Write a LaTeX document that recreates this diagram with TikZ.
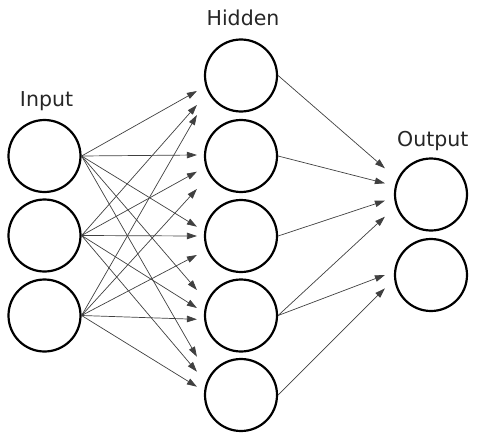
\documentclass[tikz,border=0pt]{standalone}
\usepackage{fontspec}
\setmainfont{DejaVu Sans}
\usetikzlibrary{arrows.meta,calc}
\begin{document}
\begin{tikzpicture}[x=1pt,y=-1pt,
  neuron/.style={circle,draw=black,line width=2.2pt,minimum size=72pt,inner sep=0pt},
  conn/.style={draw=black!75,line width=0.7pt,-{Triangle[length=10pt,width=6.5pt]}},
  lbl/.style={anchor=base,font=\fontsize{20.5}{24}\selectfont,text=black!85}]
\useasboundingbox (0,0) rectangle (486,441);
% nodes
\node[neuron] (i1) at (44.5,156) {};
\node[neuron] (i2) at (44.5,235.5) {};
\node[neuron] (i3) at (44.5,315.5) {};
\node[neuron] (h1) at (241,75.5) {};
\node[neuron] (h2) at (241,156) {};
\node[neuron] (h3) at (241,236) {};
\node[neuron] (h4) at (241,315.5) {};
\node[neuron] (h5) at (241,395) {};
\node[neuron] (o1) at (431,194.5) {};
\node[neuron] (o2) at (431,275) {};
% labels
\node[lbl] (tin) at (46.5,106.7) {Input};
\node[lbl] (thid) at (243,26) {Hidden};
\node[lbl] (tout) at (432.8,146.7) {Output};
% input -> hidden
\draw[conn] (i1.east) -- ($(h1.west)+(-7,15.5)$);
\draw[conn] (i2.east) -- ($(h1.west)+(-7,29.5)$);
\draw[conn] (i3.east) -- ($(h1.west)+(-7,39.5)$);
\draw[conn] (i1.east) -- ($(h2.west)+(-7,-1)$);
\draw[conn] (i2.east) -- ($(h2.west)+(-7,15.7)$);
\draw[conn] (i3.east) -- ($(h2.west)+(-7,33)$);
\draw[conn] (i1.east) -- ($(h3.west)+(-7,-9.3)$);
\draw[conn] (i2.east) -- ($(h3.west)+(-7,0)$);
\draw[conn] (i3.east) -- ($(h3.west)+(-7,19)$);
\draw[conn] (i1.east) -- ($(h4.west)+(-7,-25.5)$);
\draw[conn] (i2.east) -- ($(h4.west)+(-7,-7.5)$);
\draw[conn] (i3.east) -- ($(h4.west)+(-7,3.8)$);
\draw[conn] (i1.east) -- ($(h5.west)+(-7,-38.3)$);
\draw[conn] (i2.east) -- ($(h5.west)+(-7,-23.3)$);
\draw[conn] (i3.east) -- ($(h5.west)+(-7,-8.3)$);
% hidden -> output
\draw[conn] (h1.east) -- ($(o1.west)+(-9,-26.2)$);
\draw[conn] (h2.east) -- ($(o1.west)+(-9,-11.2)$);
\draw[conn] (h3.east) -- ($(o1.west)+(-9,6.2)$);
\draw[conn] (h4.east) -- ($(o1.west)+(-9,22.2)$);
\draw[conn] (h4.east) -- ($(o2.west)+(-9,0)$);
\draw[conn] (h5.east) -- ($(o2.west)+(-9,13.3)$);
\end{tikzpicture}
\end{document}
